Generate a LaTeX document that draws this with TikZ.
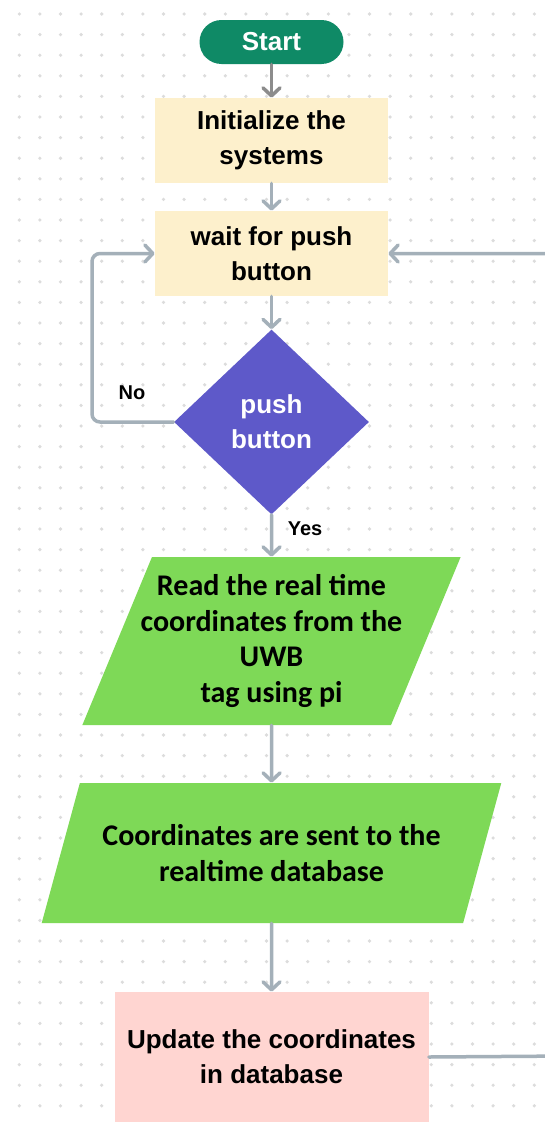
\documentclass[tikz,border=0pt]{standalone}
\usepackage{fontspec}
\setmainfont{Liberation Sans}
\newfontfamily\calib{Carlito}
\usepackage{tikz}
\usetikzlibrary{arrows.meta,shapes.geometric}
\definecolor{startgreen}{HTML}{0F8A66}
\definecolor{boxyellow}{HTML}{FDF0CC}
\definecolor{decpurple}{HTML}{5E59C9}
\definecolor{iogreen}{HTML}{7ED957}
\definecolor{updpink}{HTML}{FFD5D1}
\definecolor{linegray}{HTML}{A4B0B9}
\definecolor{darkline}{HTML}{8C8C8C}
\definecolor{dotgray}{HTML}{DCDCDC}

\begin{document}
\begin{tikzpicture}[x=0.5pt, y=-0.5pt,
		boxtxt/.style={align=center, inner sep=0pt, font=\bfseries\fontsize{13pt}{17.5pt}\selectfont},
		procbox/.style={boxtxt, fill=boxyellow, minimum width=116.5pt, minimum height=42.5pt},
		iobox/.style={trapezium, trapezium stretches=true, fill=iogreen, align=center, inner sep=0pt,
			font=\calib\bfseries\fontsize{15pt}{17.7pt}\selectfont},
		flow/.style={draw=linegray, line width=1.75pt, line cap=round, rounded corners=4pt,
			-{Straight Barb[length=4pt, width=8.5pt, round]}},
		lbl/.style={font=\bfseries\fontsize{10pt}{12pt}\selectfont}]
		\clip (0,0) rectangle (545,1124);
		\fill[white] (0,0) rectangle (545,1124);
		\foreach \i in {0,...,26} {
				\foreach \j in {0,...,54} {
						\fill[dotgray] (19.3+20.6*\i, 14+20.6*\j) circle (0.9pt);
					}
			}
		\node[boxtxt, fill=startgreen, text=white, rounded corners=11pt, minimum width=72pt, minimum height=22pt] (start) at (271.5,42) {Start};
		\node[procbox] (init) at (271.5,140.5) {Initialize the\\systems};
		\node[procbox] (wait) at (271.5,253.5) {wait for push\\button};
		\node[diamond, boxtxt, fill=decpurple, text=white, minimum width=97.5pt, minimum height=92.5pt] (push) at (271.5,422) {push\\button};
		\node[iobox, inner xsep=-8pt, trapezium left angle=63.2, trapezium right angle=116.8, minimum width=189.5pt, minimum height=84pt] (read) at (271.5,641) {Read the real time\\coordinates from the\\UWB\\tag using pi};
		\node[iobox, trapezium left angle=59.3, trapezium right angle=120.7, minimum width=230pt, minimum height=70pt] (send) at (271.5,853) {Coordinates are sent to the\\realtime database};
		\node[procbox, fill=updpink, minimum width=157pt, minimum height=65pt] (upd) at (271.5,1057) {Update the coordinates\\in database};
		\node[lbl] (no) at (132,393) {No};
		\node[lbl] (yes) at (305,529) {Yes};
		\coordinate (loopx) at (92,0);
		\coordinate (backa) at (570,1056);
		\coordinate (backb) at (570,253.5);
		\draw[flow, draw=darkline] (start) -- (init);
		\draw[flow] (init) -- (wait);
		\draw[flow] (wait) -- (push);
		\draw[flow] (push.west) -- (push.west -| loopx) |- (wait.west);
		\draw[flow] (push.south) -- (read.north);
		\draw[flow] (read.south) -- (send.north);
		\draw[flow] (send.south) -- (upd.north);
		\draw[flow] (upd.east) -- (backa) -- (backb) -- (wait.east);
	\end{tikzpicture}
\end{document}
